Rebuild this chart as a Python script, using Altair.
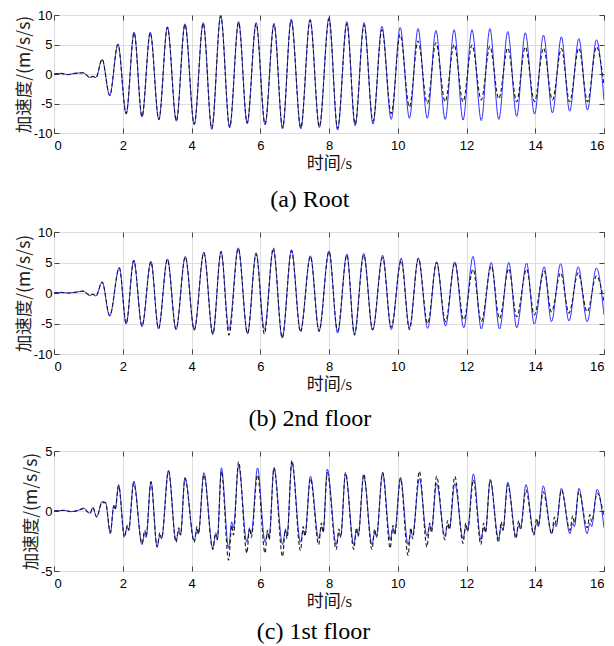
import altair as alt
import pandas as pd

# ---------------- data (extrema) ----------------
x_ticks = [0, 2, 4, 6, 8, 10, 12, 14, 16]
y_ticks_ab = [-10, -5, 0, 5, 10]
y_ticks_c = [-5, 0, 5]

# (a) Root
t_a = [0.0, 0.2, 0.4, 0.6, 0.85, 1.05, 1.13, 1.22,
       1.40, 1.62, 1.86, 2.10, 2.33, 2.56, 2.80, 3.05, 3.30, 3.56, 3.81, 4.08,
       4.34, 4.59, 4.85, 5.11, 5.37, 5.62, 5.88, 6.14, 6.40, 6.65, 6.90, 7.18,
       7.45, 7.72, 8.00, 8.25, 8.52, 8.76, 9.02, 9.28, 9.54, 9.81, 10.07, 10.34,
       10.59, 10.86, 11.11, 11.38, 11.64, 11.90, 12.16, 12.43, 12.68, 12.94,
       13.20, 13.46, 13.71, 13.98, 14.24, 14.50, 14.76, 15.00, 15.27, 15.52,
       15.78, 16.0]
blue_a = [0.0, 0.1, -0.1, 0.1, 0.2, -0.6, -0.4, -0.6,
          2.5, -3.7, 5.1, -6.8, 7.1, -7.3, 7.1, -7.8, 8.0, -8.0, 8.5, -8.6,
          8.7, -9.4, 10.0, -9.1, 8.9, -8.4, 8.7, -8.6, 8.6, -9.3, 9.3, -9.3,
          9.3, -9.1, 9.6, -9.5, 8.9, -8.8, 8.7, -8.5, 8.1, -7.7, 7.9, -7.5,
          7.7, -7.5, 7.4, -7.7, 7.5, -7.8, 7.5, -7.9, 7.7, -7.7,
          7.2, -7.2, 7.0, -6.8, 6.6, -6.6, 6.3, -6.3, 6.0, -6.1,
          5.8, -4.5]
black_a = [0.0, 0.1, -0.1, 0.1, 0.2, -0.6, -0.4, -0.6,
           2.5, -3.6, 5.0, -6.7, 7.0, -7.2, 7.0, -7.7, 7.9, -7.9, 8.4, -8.5,
           8.6, -9.2, 9.8, -9.0, 8.7, -8.3, 8.5, -8.5, 8.4, -9.1, 9.1, -9.1,
           9.1, -8.9, 9.3, -9.2, 8.5, -8.5, 8.3, -8.0, 7.5, -6.7, 6.7, -5.6,
           5.6, -5.0, 5.3, -4.7, 5.0, -4.7, 4.9, -4.4, 4.7, -4.2,
           4.4, -4.7, 4.6, -4.7, 4.4, -4.4, 4.3, -4.7, 4.4, -4.7,
           4.6, -2.0]

# (b) 2nd floor
t_b = [0.0, 0.2, 0.4, 0.6, 0.85, 1.05, 1.13, 1.22,
       1.40, 1.62, 1.90, 2.10, 2.32, 2.56, 2.82, 3.04, 3.30, 3.55, 3.82, 4.08,
       4.36, 4.62, 4.86, 5.09, 5.36, 5.63, 5.88, 6.12, 6.38, 6.64, 6.91, 7.17,
       7.46, 7.71, 8.00, 8.25, 8.52, 8.74, 9.01, 9.27, 9.56, 9.81, 10.10, 10.34,
       10.60, 10.87, 11.13, 11.39, 11.66, 11.92, 12.19, 12.43, 12.72, 12.96,
       13.23, 13.46, 13.75, 13.97, 14.26, 14.47, 14.74, 14.98, 15.25, 15.51,
       15.78, 16.0]
blue_b = [0.0, 0.1, 0.0, 0.1, 0.3, -0.4, -0.2, -0.5,
          1.8, -3.8, 4.2, -5.1, 5.4, -5.5, 5.2, -5.9, 5.6, -6.0, 6.0, -6.1,
          6.7, -6.8, 6.8, -6.0, 7.4, -6.7, 6.6, -6.0, 7.1, -7.4, 7.1, -6.2,
          6.1, -6.2, 6.9, -6.6, 6.4, -6.7, 6.5, -6.1, 6.2, -6.0, 5.7, -5.7,
          5.7, -5.8, 5.1, -5.4, 5.1, -5.7, 6.0, -5.9, 5.0, -5.9,
          5.0, -5.7, 4.9, -5.1, 4.3, -4.7, 4.8, -4.6, 4.3, -4.7,
          4.1, -3.6]
black_b = [0.0, 0.1, 0.0, 0.1, 0.3, -0.4, -0.2, -0.5,
           1.8, -3.7, 4.1, -5.0, 5.3, -5.4, 5.1, -5.8, 5.5, -5.9, 5.9, -6.0,
           6.6, -6.7, 6.8, -6.9, 7.3, -6.6, 6.4, -6.7, 7.4, -7.3, 6.9, -6.4,
           6.0, -6.3, 6.8, -6.2, 6.2, -6.9, 6.2, -6.0, 5.8, -5.6, 5.3, -6.0,
           5.7, -5.0, 5.0, -4.7, 5.0, -4.4, 3.9, -4.7, 4.4, -4.2,
           4.0, -3.9, 3.9, -3.6, 3.6, -3.1, 3.3, -3.3, 3.3, -3.1,
           2.8, -1.5]

# (c) 1st floor
t_c = [0.0, 0.3, 0.5, 0.7, 0.87, 0.95, 1.05, 1.13, 1.24, 1.40, 1.50,
       1.64, 1.74, 1.78, 1.88,
       2.05, 2.13, 2.17, 2.32,
       2.56, 2.64, 2.68, 2.82,
       3.00, 3.08, 3.13, 3.33,
       3.55, 3.63, 3.68, 3.81,
       4.08, 4.16, 4.20, 4.36,
       4.62, 4.70, 4.75, 4.87,
       5.08, 5.17, 5.22, 5.37,
       5.61, 5.69, 5.74, 5.92,
       6.14, 6.21, 6.26, 6.40,
       6.65, 6.73, 6.78, 6.92,
       7.17, 7.25, 7.30, 7.46,
       7.70, 7.78, 7.83, 7.95,
       8.21, 8.29, 8.34, 8.48,
       8.72, 8.80, 8.85, 9.01,
       9.25, 9.33, 9.38, 9.56,
       9.78, 9.86, 9.91, 10.08,
       10.30, 10.38, 10.43, 10.63,
       10.85, 10.93, 10.98, 11.13,
       11.37, 11.45, 11.50, 11.66,
       11.90, 11.98, 12.03, 12.20,
       12.42, 12.50, 12.55, 12.69,
       12.93, 13.01, 13.06, 13.20,
       13.44, 13.52, 13.57, 13.73,
       13.96, 14.04, 14.09, 14.23,
       14.48, 14.56, 14.61, 14.76,
       15.01, 15.09, 15.14, 15.27,
       15.51, 15.59, 15.64, 15.80,
       16.0]
blue_c = [0.0, 0.05, -0.05, 0.05, 0.25, 0.0, -0.2, 0.3, -0.5, 0.8, 0.7,
          -1.9, 0.5, 0.2, 2.2,
          -2.1, -1.3, -1.6, 2.5,
          -2.8, -1.9, -2.2, 2.5,
          -3.0, -2.0, -2.3, 3.4,
          -2.5, -1.6, -2.0, 2.8,
          -2.5, -1.5, -1.9, 3.2,
          -3.1, -2.0, -2.4, 3.6,
          -3.1, -0.9, -1.4, 3.8,
          -2.6, -1.5, -1.9, 3.6,
          -2.6, -1.8, -2.1, 3.6,
          -2.8, -1.6, -2.0, 4.1,
          -2.6, -1.6, -2.0, 2.9,
          -2.3, -1.3, -1.7, 3.5,
          -2.8, -1.8, -2.1, 3.1,
          -2.8, -1.7, -2.0, 2.9,
          -2.8, -1.8, -2.1, 3.2,
          -2.4, -1.4, -1.8, 2.8,
          -2.8, -1.8, -2.0, 2.7,
          -2.1, -1.2, -1.5, 2.3,
          -2.1, -1.2, -1.5, 2.3,
          -2.3, -1.3, -1.6, 3.1,
          -2.4, -1.4, -1.7, 2.6,
          -2.3, -1.3, -1.6, 2.4,
          -2.1, -1.2, -1.5, 2.2,
          -1.9, -1.0, -1.3, 2.1,
          -1.9, -1.0, -1.3, 1.9,
          -1.9, -1.0, -1.3, 1.9,
          -1.9, -1.0, -1.3, 1.8,
          -1.4]
black_c = [0.0, 0.05, -0.05, 0.05, 0.2, 0.0, -0.2, 0.3, -0.5, 0.7, 0.7,
           -1.8, 0.4, 0.1, 2.1,
           -2.2, -1.2, -1.6, 2.3,
           -2.7, -1.6, -2.1, 2.4,
           -3.0, -1.8, -2.3, 3.3,
           -2.6, -1.4, -2.0, 2.7,
           -2.6, -1.3, -1.9, 3.0,
           -3.2, -1.8, -2.4, 3.3,
           -4.1, -1.2, -2.0, 4.1,
           -3.5, -1.4, -2.2, 3.0,
           -3.5, -1.6, -2.4, 3.6,
           -3.8, -1.5, -2.3, 4.2,
           -3.3, -1.3, -2.1, 2.7,
           -2.8, -1.0, -1.8, 3.2,
           -3.2, -1.5, -2.2, 3.2,
           -3.2, -1.4, -2.1, 3.1,
           -3.2, -1.5, -2.2, 3.2,
           -3.1, -1.2, -2.0, 2.7,
           -3.7, -1.4, -2.3, 3.3,
           -3.0, -1.0, -1.8, 2.9,
           -2.4, -0.8, -1.5, 2.9,
           -2.7, -1.0, -1.7, 2.6,
           -2.8, -1.0, -1.8, 2.6,
           -2.6, -0.9, -1.6, 2.2,
           -2.3, -0.8, -1.5, 1.75,
           -2.0, -0.6, -1.2, 1.6,
           -1.9, -0.5, -1.1, 1.75,
           -1.6, -0.4, -1.0, 1.6,
           -1.4, -0.3, -0.9, 1.5,
           -0.5]

captions = ["(a) Root", "(b) 2nd floor", "(c) 1st floor"]
x_title = "时间/s"
y_title = "加速度/(m/s/s)"

# ---------------- styling ----------------
W = 550
TICK_FONT = "Liberation Sans"
LABEL_EXPR = "'' + datum.value"


def panel(t, blue, black, ydom, yticks, caption, h, cap_offset):
    df_blue = pd.DataFrame({"t": t, "v": blue})
    df_black = pd.DataFrame({"t": t, "v": black})
    xs = alt.Scale(domain=[0, 16], nice=False, zero=False)
    ys = alt.Scale(domain=ydom, nice=False, zero=False)

    x_main = alt.Axis(values=x_ticks, orient="bottom", title=x_title, tickSize=0,
                      domain=False, labelFont=TICK_FONT, labelFontSize=13,
                      labelColor="black", labelPadding=6, labelExpr=LABEL_EXPR,
                      titleFont="Liberation Serif, Noto Sans CJK SC", titleFontSize=17,
                      titleFontWeight="normal", titleColor="#111", titlePadding=3)
    y_main = alt.Axis(values=yticks, orient="left", title=y_title, tickSize=0,
                      domain=False, labelFont=TICK_FONT, labelFontSize=13,
                      labelColor="black", labelPadding=2, labelExpr=LABEL_EXPR,
                      titleFont="Noto Sans CJK SC", titleFontSize=17.5,
                      titleFontWeight="normal", titleColor="#222", titlePadding=0)
    tick_kw = dict(labels=False, domain=False, tickSize=5, offset=-5,
                   tickColor="#444", tickWidth=1, grid=False, title=None)
    x_in_bottom = alt.Axis(values=x_ticks, orient="bottom", **tick_kw)
    y_in_left = alt.Axis(values=yticks, orient="left", **tick_kw)
    x_in_top = alt.Axis(values=x_ticks, orient="top", **tick_kw)
    y_in_right = alt.Axis(values=yticks, orient="right", **tick_kw)

    blue_layer = alt.Chart(df_blue).mark_line(
        color="#3030ff", strokeWidth=1, interpolate="monotone", clip=True
    ).encode(x=alt.X("t:Q", scale=xs, axis=x_main),
             y=alt.Y("v:Q", scale=ys, axis=y_main))
    black_layer = alt.Chart(df_black).mark_line(
        color="#1a1a1a", strokeWidth=1.1, strokeDash=[4, 2.5],
        interpolate="monotone", clip=True
    ).encode(x=alt.X("t:Q", scale=xs, axis=x_in_bottom),
             y=alt.Y("v:Q", scale=ys, axis=y_in_left))
    ghost = alt.Chart(df_blue).mark_line(opacity=0, clip=True).encode(
        x=alt.X("t:Q", scale=xs, axis=x_in_top),
        y=alt.Y("v:Q", scale=ys, axis=y_in_right))

    return alt.layer(blue_layer, black_layer, ghost).resolve_axis(
        x="independent", y="independent"
    ).properties(
        width=W, height=h,
        title=alt.TitleParams(text=caption, orient="bottom", anchor="middle",
                              frame="bounds", font="Liberation Serif",
                              fontSize=24, fontWeight="normal", color="black",
                              offset=cap_offset),
    )


pa = panel(t_a, blue_a, black_a, [-10, 10], y_ticks_ab, captions[0], 118, 17)
pb = panel(t_b, blue_b, black_b, [-10, 10], y_ticks_ab, captions[1], 122, 15)
pc = panel(t_c, blue_c, black_c, [-5, 5], y_ticks_c, captions[2], 120, 11)

chart = alt.vconcat(pa, pb, pc, spacing=12).properties(
    padding={"left": 6, "top": 0, "right": 0, "bottom": 0}
).configure_view(stroke="#333", strokeWidth=1)

chart.save("out.html", embed_options={"renderer": "svg", "actions": False})
